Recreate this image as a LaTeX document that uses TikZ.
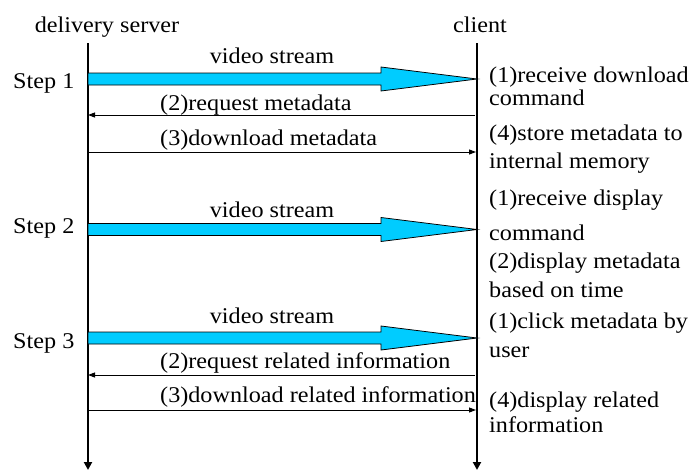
\documentclass[tikz,border=0pt]{standalone}
\usepackage{fontspec}
\setmainfont{Liberation Serif}[FakeStretch=1.075]
\usetikzlibrary{arrows.meta}
\definecolor{streamcyan}{RGB}{0,204,255}
\tikzset{
  lbl/.style={font=\fontsize{22.5}{24}\selectfont, inner sep=0pt, anchor=base west},
  lblc/.style={font=\fontsize{22.5}{24}\selectfont, inner sep=0pt, anchor=base},
  lifeline/.style={line width=2pt, -{Triangle[length=8pt,width=8pt]}},
  msg/.style={line width=0.9pt, -{Triangle[length=7pt,width=5pt]}},
  stream/.style={draw=black, line width=0.8pt, fill=streamcyan, line join=miter},
}
\begin{document}
\begin{tikzpicture}[x=1pt,y=-1pt]
\useasboundingbox (0,0) rectangle (691,471);
% lifelines
\coordinate (stop) at (88,43);
\coordinate (sbot) at (88,470);
\coordinate (ctop) at (477,43);
\coordinate (cbot) at (477,470);
\draw[lifeline] (stop) -- (sbot);
\draw[lifeline] (ctop) -- (cbot);
\node[lblc] (srv) at (107,32) {delivery server};
\node[lblc] (cli) at (480,32) {client};

% ---------- Step 1
\node[lbl] (st1) at (13,88) {Step 1};
\coordinate (b1) at (477,79);
\draw[stream] (88,73) -- (381,73) -- (381,67) -- (b1) -- (381,91) -- (381,85) -- (88,85) -- cycle;
\node[lblc] (vs1) at (272,63) {video stream};
\node[lbl] (r1a) at (489,82) {(1)receive download};
\node[lbl] (r1b) at (489,105) {command};
\coordinate (m1s) at (475,115);
\coordinate (m1e) at (88,115);
\draw[msg] (m1s) -- (m1e);
\node[lbl] (t1a) at (160,110) {(2)request metadata};
\coordinate (m2s) at (88,152);
\coordinate (m2e) at (476,152);
\draw[msg] (m2s) -- (m2e);
\node[lbl] (t1b) at (160,145) {(3)download metadata};
\node[lbl] (r1c) at (489,140) {(4)store metadata to};
\node[lbl] (r1d) at (489,168) {internal memory};

% ---------- Step 2
\node[lbl] (st2) at (13,233) {Step 2};
\coordinate (b2) at (477,229.5);
\draw[stream] (88,223.5) -- (381,223.5) -- (381,217.5) -- (b2) -- (381,241.5) -- (381,235.5) -- (88,235.5) -- cycle;
\node[lblc] (vs2) at (272,217) {video stream};
\node[lbl] (r2a) at (489,205) {(1)receive display};
\node[lbl] (r2b) at (489,240) {command};
\node[lbl] (r2c) at (489,268) {(2)display metadata};
\node[lbl] (r2d) at (489,297) {based on time};

% ---------- Step 3
\node[lbl] (st3) at (13,348) {Step 3};
\coordinate (b3) at (477,338);
\draw[stream] (88,332) -- (381,332) -- (381,326) -- (b3) -- (381,350) -- (381,344) -- (88,344) -- cycle;
\node[lblc] (vs3) at (272,323) {video stream};
\node[lbl] (r3a) at (489,328) {(1)click metadata by};
\node[lbl] (r3b) at (489,357) {user};
\coordinate (m3s) at (475,375);
\coordinate (m3e) at (88,375);
\draw[msg] (m3s) -- (m3e);
\node[lbl] (t3a) at (160,368) {(2)request related information};
\coordinate (m4s) at (88,410);
\coordinate (m4e) at (476,410);
\draw[msg] (m4s) -- (m4e);
\node[lbl] (t3b) at (160,402) {(3)download related information};
\node[lbl] (r3c) at (489,407) {(4)display related};
\node[lbl] (r3d) at (489,432) {information};
\end{tikzpicture}
\end{document}
